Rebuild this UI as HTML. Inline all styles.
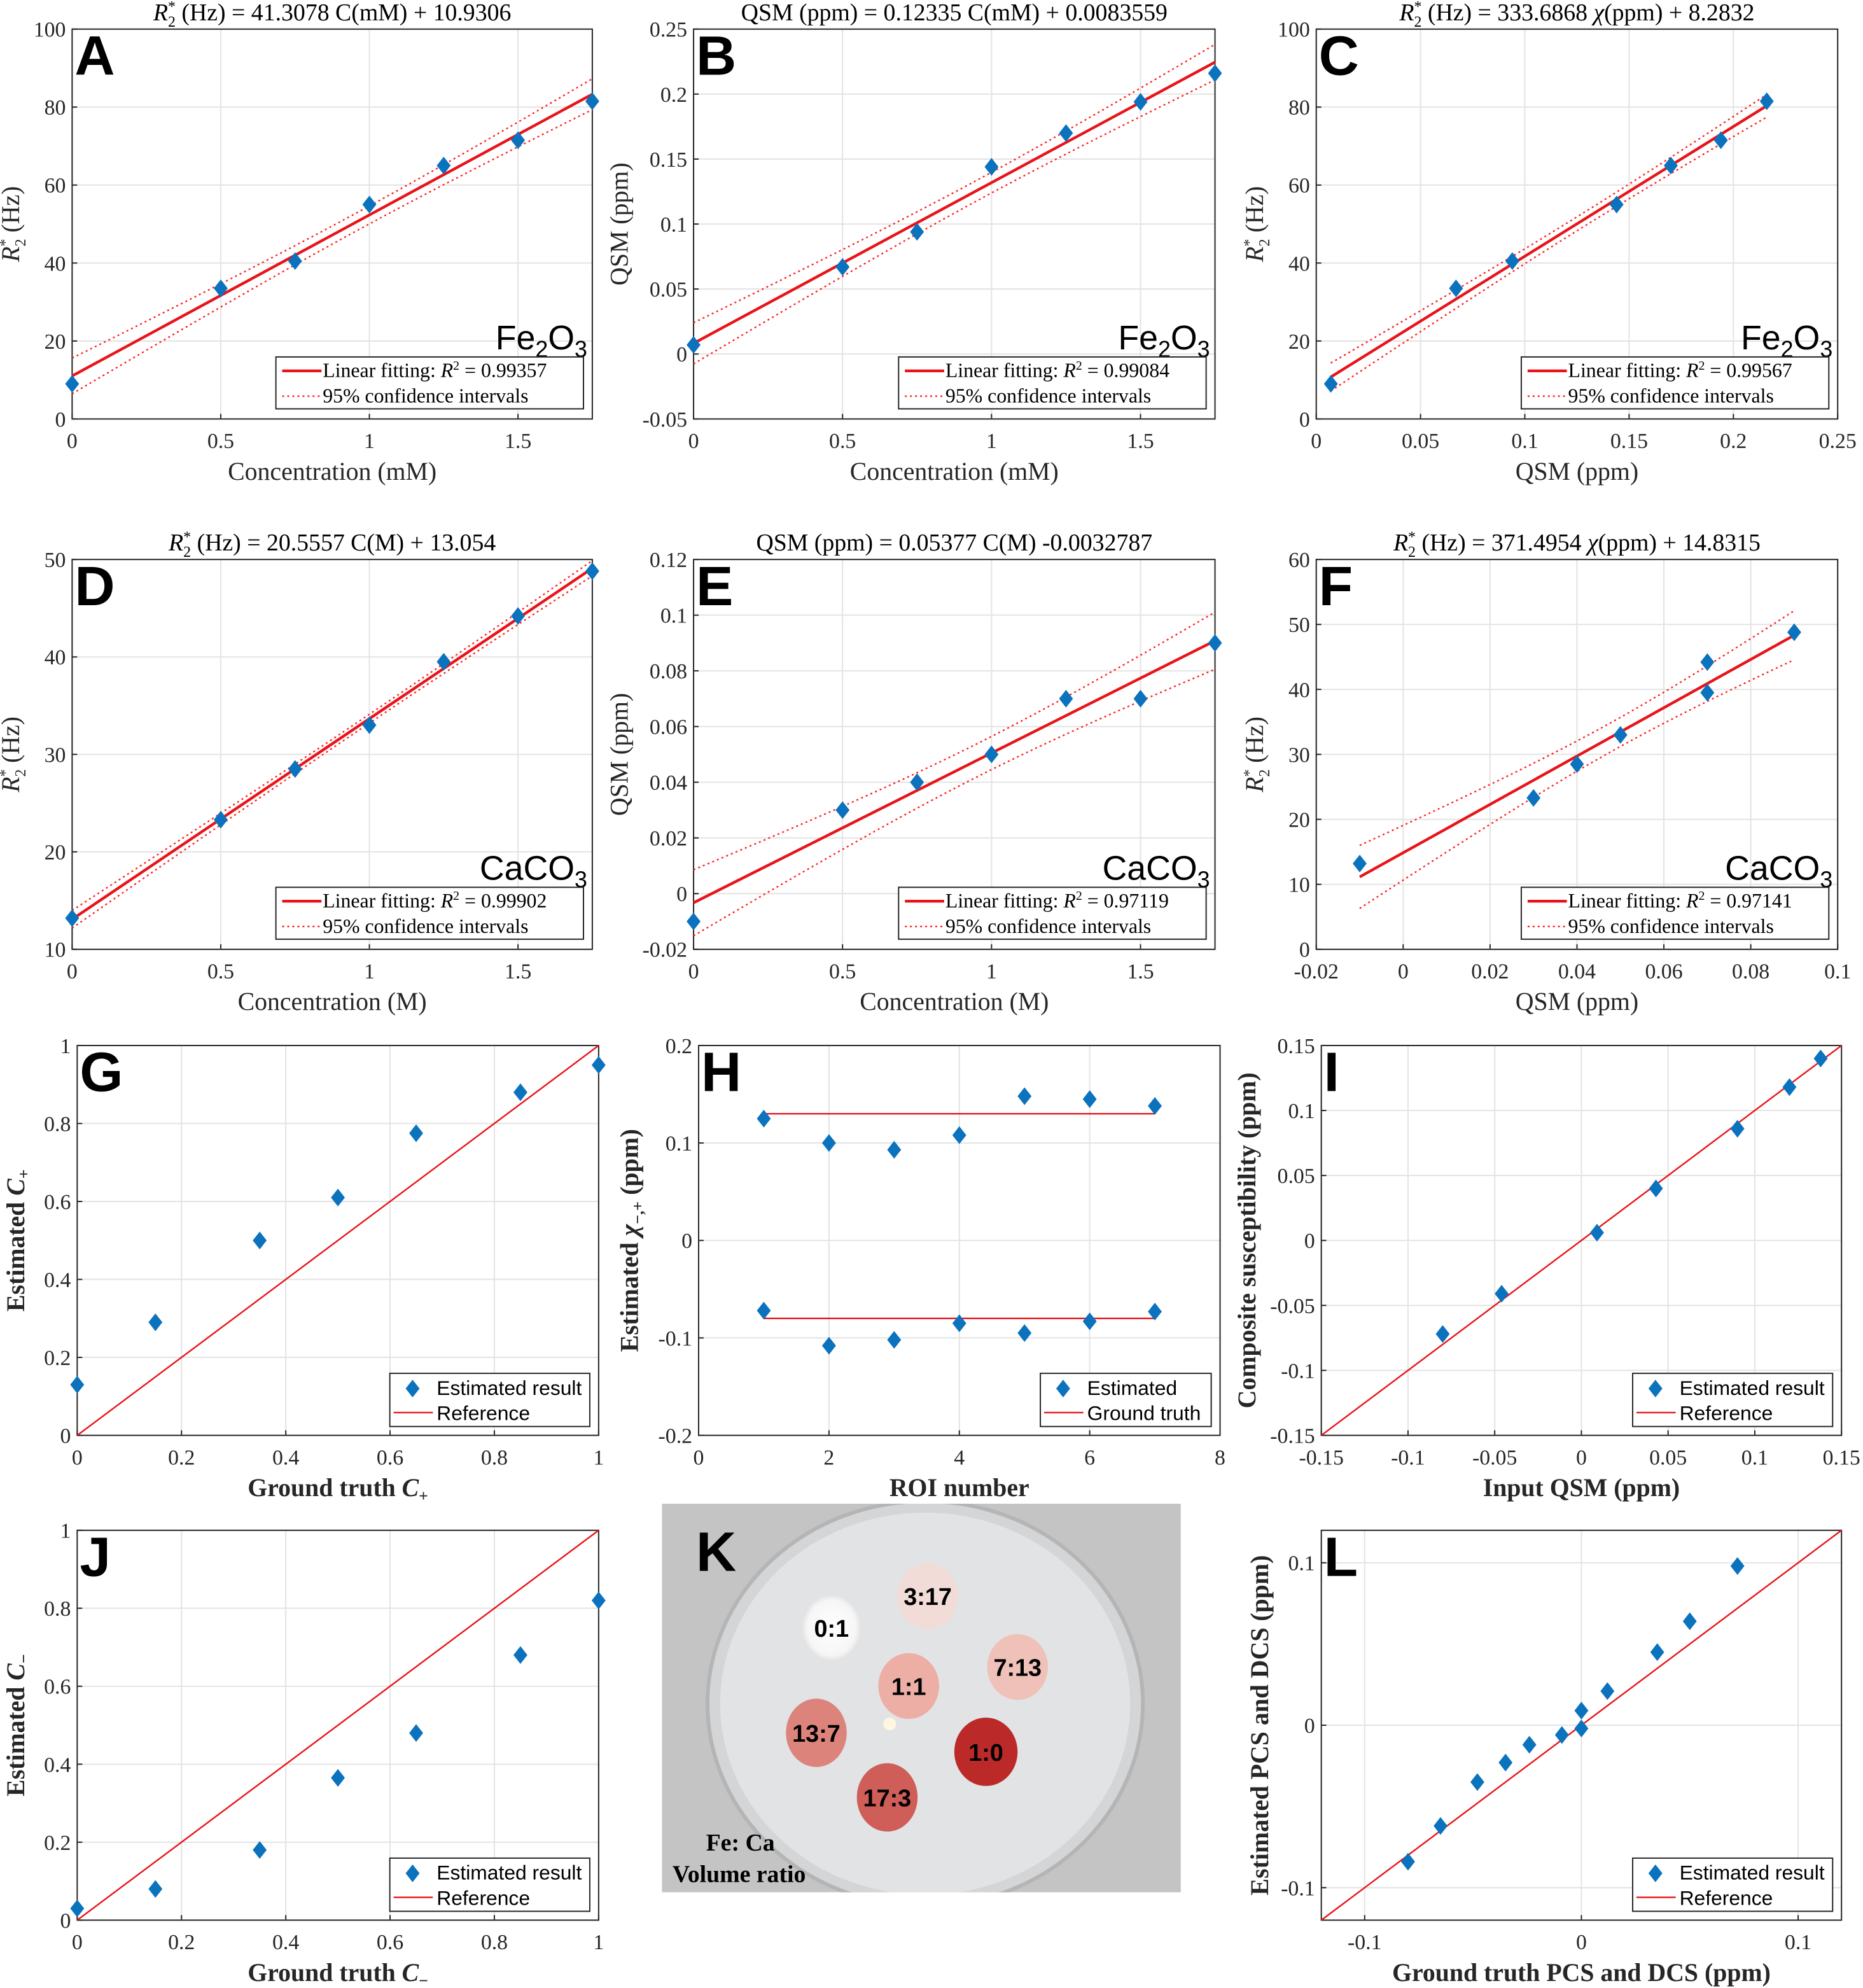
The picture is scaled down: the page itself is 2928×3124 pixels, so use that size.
<!DOCTYPE html>
<html><head><meta charset="utf-8"><style>
html,body{margin:0;padding:0;background:#fff}
svg{display:block}
.serif{font-family:"Liberation Serif",serif}
.sans{font-family:"Liberation Sans",sans-serif}
</style></head><body>
<svg id="fig" xmlns="http://www.w3.org/2000/svg" width="2928" height="3124" viewBox="0 0 1472 1570.6" preserveAspectRatio="none">
<defs>
<radialGradient id="g01"><stop offset="0" stop-color="#ffffff"/><stop offset="0.8" stop-color="#f6f6f6"/><stop offset="1" stop-color="#e0e0e2"/></radialGradient>
<clipPath id="photoClip"><rect x="523" y="1188" width="410" height="307"/></clipPath>
</defs>
<g id="photo" clip-path="url(#photoClip)">
<rect x="523" y="1188" width="410" height="307" fill="#c4c4c4"/>
<ellipse cx="731" cy="1346" rx="172" ry="160" fill="#d4d5d7" stroke="#b5b5b5" stroke-width="3"/>
<ellipse cx="731" cy="1346" rx="162" ry="151" fill="#e2e3e5"/>
<ellipse cx="657" cy="1286" rx="24" ry="27" fill="url(#g01)"/>
<ellipse cx="733" cy="1261" rx="24" ry="26" fill="#f1dcd8"/>
<ellipse cx="804" cy="1317" rx="24" ry="26" fill="#efc1b9"/>
<ellipse cx="718" cy="1332" rx="24" ry="26" fill="#ecaea5"/>
<ellipse cx="645" cy="1369" rx="24" ry="27" fill="#dc847c"/>
<ellipse cx="779" cy="1384" rx="25" ry="27" fill="#bb2a28"/>
<ellipse cx="701" cy="1420" rx="24" ry="27" fill="#cf5d58"/>
<circle cx="703" cy="1362" r="5" fill="#fff7e0"/>
<g class="sans" font-weight="bold" font-size="19" text-anchor="middle" fill="#000">
<text x="657" y="1293">0:1</text>
<text x="733" y="1268">3:17</text>
<text x="804" y="1324">7:13</text>
<text x="718" y="1339">1:1</text>
<text x="645" y="1376">13:7</text>
<text x="779" y="1391">1:0</text>
<text x="701" y="1427">17:3</text>
</g>
<text x="585" y="1462" class="serif" font-weight="bold" font-size="19" text-anchor="middle">Fe: Ca</text>
<text x="584" y="1487" class="serif" font-weight="bold" font-size="19" text-anchor="middle">Volume ratio</text>
<text x="550" y="1241" class="sans" font-weight="bold" font-size="44">K</text>
</g>
</svg>
<script>
// ---------- data ----------
const concFe = [0, 0.5, 0.75, 1, 1.25, 1.5, 1.75];
const r2Fe = [9, 33.5, 40.5, 55, 65, 71.5, 81.5];
const qsmFe = [0.007, 0.067, 0.094, 0.144, 0.17, 0.194, 0.216];
const concCa = [0, 0.5, 0.75, 1, 1.25, 1.5, 1.75];
const r2Ca = [13.2, 23.3, 28.5, 33, 39.5, 44.2, 48.8];
const qsmCaE = [-0.01, 0.03, 0.04, 0.05, 0.07, 0.07, 0.09];
const qsmCaF = [-0.01, 0.03, 0.04, 0.05, 0.07, 0.07, 0.09];
const gtPlus = [0, 0.15, 0.35, 0.5, 0.65, 0.85, 1];
const estPlus = [0.13, 0.29, 0.5, 0.61, 0.775, 0.88, 0.95];
const roiNum = [1, 2, 3, 4, 5, 6, 7];
const chiPlus = [0.125, 0.1, 0.093, 0.108, 0.148, 0.145, 0.138];
const chiMinus = [-0.072, -0.108, -0.102, -0.085, -0.095, -0.083, -0.073];
const gtChi = [0.13, -0.08];
const inputQsm = [-0.08, -0.046, 0.009, 0.043, 0.09, 0.12, 0.138];
const compSus = [-0.072, -0.041, 0.006, 0.04, 0.086, 0.118, 0.14];
const gtMinus = [0, 0.15, 0.35, 0.5, 0.65, 0.85, 1];
const estMinus = [0.03, 0.08, 0.18, 0.365, 0.48, 0.68, 0.82];
const gtPcs = [-0.08, -0.065, -0.048, -0.035, -0.024, -0.009, 0, 0, 0.012, 0.035, 0.05, 0.072];
const estPcs = [-0.084, -0.062, -0.035, -0.023, -0.012, -0.006, -0.002, 0.009, 0.021, 0.045, 0.064, 0.098];
const ticksConc = [0, 0.5, 1, 1.5];
const ticks100 = [0, 20, 40, 60, 80, 100];
const ticksQsmB = [-0.05, 0, 0.05, 0.1, 0.15, 0.2, 0.25];
const ticksQsmC = [0, 0.05, 0.1, 0.15, 0.2, 0.25];
const ticksD = [10, 20, 30, 40, 50];
const ticksE = [-0.02, 0, 0.02, 0.04, 0.06, 0.08, 0.1, 0.12];
const ticksFx = [-0.02, 0, 0.02, 0.04, 0.06, 0.08, 0.1];
const ticksFy = [0, 10, 20, 30, 40, 50, 60];
const ticksUnit = [0, 0.2, 0.4, 0.6, 0.8, 1];
const ticksHx = [0, 2, 4, 6, 8];
const ticksHy = [-0.2, -0.1, 0, 0.1, 0.2];
const ticksI = [-0.15, -0.1, -0.05, 0, 0.05, 0.1, 0.15];
const ticksL = [-0.1, 0, 0.1];
const r2Values = ["0.99357", "0.99084", "0.99567", "0.99902", "0.97119", "0.97141"];

// ---------- helpers ----------
const NS = "http://www.w3.org/2000/svg";
const svg = document.getElementById('fig');
function mk(tag, attrs, parent) {
  const e = document.createElementNS(NS, tag);
  for (const k in attrs) e.setAttribute(k, attrs[k]);
  (parent || svg).appendChild(e);
  return e;
}
function fmt(v) {
  return String(Math.round(v * 1000) / 1000);
}
function linfit(xs, ys) {
  const n = xs.length;
  const mx = xs.reduce((a, b) => a + b, 0) / n, my = ys.reduce((a, b) => a + b, 0) / n;
  let sxx = 0, sxy = 0;
  for (let i = 0; i < n; i++) { sxx += (xs[i] - mx) ** 2; sxy += (xs[i] - mx) * (ys[i] - my); }
  const b = sxy / sxx, a = my - b * mx;
  let sse = 0;
  for (let i = 0; i < n; i++) sse += (ys[i] - a - b * xs[i]) ** 2;
  const s = Math.sqrt(sse / (n - 2));
  return { a, b, mx, sxx, s, n };
}

function makeAxes(p) {
  const g = mk('g', {});
  
  
  const X = v => p.x0 + (v - p.xmin) / (p.xmax - p.xmin) * (p.x1 - p.x0);
  const Y = v => p.y1 - (v - p.ymin) / (p.ymax - p.ymin) * (p.y1 - p.y0);
  const bg = mk('rect', { x: p.x0, y: p.y0, width: p.x1 - p.x0, height: p.y1 - p.y0, fill: '#fff' }, g);
  
  
  p.xticks.forEach(t => {
    const gl = mk('line', { x1: X(t), x2: X(t), y1: p.y0, y2: p.y1, stroke: '#e3e3e3', 'stroke-width': 1 }, g);
    
    
    const tk = mk('line', { x1: X(t), x2: X(t), y1: p.y1, y2: p.y1 - 4, stroke: '#262626', 'stroke-width': 1 }, g);
    
    
    const tl = mk('text', { x: X(t), y: p.y1 + 23, 'text-anchor': 'middle', 'font-size': 17, class: 'serif', fill: '#262626' }, g);
    tl.textContent = fmt(t);
    
    
  });
  p.yticks.forEach(t => {
    const gl = mk('line', { x1: p.x0, x2: p.x1, y1: Y(t), y2: Y(t), stroke: '#e3e3e3', 'stroke-width': 1 }, g);
    
    
    const tk = mk('line', { x1: p.x0, x2: p.x0 + 4, y1: Y(t), y2: Y(t), stroke: '#262626', 'stroke-width': 1 }, g);
    
    
    const tl = mk('text', { x: p.x0 - 5, y: Y(t) + 6, 'text-anchor': 'end', 'font-size': 17, class: 'serif', fill: '#262626' }, g);
    tl.textContent = fmt(t);
    
    
  });
  const box = mk('rect', { x: p.x0, y: p.y0, width: p.x1 - p.x0, height: p.y1 - p.y0, fill: 'none', stroke: '#262626', 'stroke-width': 1 }, g);
  
  
  const xl = mk('text', { x: (p.x0 + p.x1) / 2, y: p.y1 + 48, 'text-anchor': 'middle', 'font-size': 20, class: 'serif', fill: '#262626', 'font-weight': p.boldLabels ? 'bold' : 'normal' }, g);
  xl.innerHTML = p.xlabel;
  
  
  const ylx = p.x0 - (p.ylabelOff || 42), yly = (p.y0 + p.y1) / 2;
  const yl = mk('text', { x: ylx, y: yly, 'text-anchor': 'middle', 'font-size': 20, class: 'serif', fill: '#262626', transform: `rotate(-90 ${ylx} ${yly})`, 'font-weight': p.boldLabels ? 'bold' : 'normal' }, g);
  yl.innerHTML = p.ylabel;
  
  
  if (p.title) {
    const tt = mk('text', { x: (p.x0 + p.x1) / 2, y: p.y0 - 7, 'text-anchor': 'middle', 'font-size': 19, class: 'serif', fill: '#000' }, g);
    tt.innerHTML = p.title;
    
    
  }
  const letter = mk('text', { x: p.x0 + 2, y: p.y0 + 36, 'font-size': 44, 'font-weight': 'bold', class: 'sans', fill: '#000' }, g);
  letter.textContent = p.letter;
  
  
  return { g, X, Y };
}
function diamond(g, x, y) {
  const d = mk('path', { d: `M${x} ${y - 7}L${x + 5.5} ${y}L${x} ${y + 7}L${x - 5.5} ${y}Z`, fill: '#0b72bd' }, g);
  
  
}

const r2star = '<tspan font-style="italic">R</tspan><tspan font-size="12" dy="5">2</tspan><tspan font-size="12" dy="-12" dx="-6">*</tspan><tspan dy="7"> (Hz)</tspan>';

function fitPanel(p, xs, ys, r2, compound, xr) {
  const { g, X, Y } = makeAxes(p);
  const f = linfit(xs, ys);
  const t = 2.571;
  const ci = x => t * f.s * Math.sqrt(1 / f.n + (x - f.mx) ** 2 / f.sxx);
  const lo = xr ? xr[0] : Math.min(...xs), hi = xr ? xr[1] : Math.max(...xs);
  const N = 40;
  let up = '', dn = '';
  for (let i = 0; i <= N; i++) {
    const x = lo + (hi - lo) * i / N, yv = f.a + f.b * x;
    up += (i ? 'L' : 'M') + X(x).toFixed(2) + ' ' + Y(yv + ci(x)).toFixed(2);
    dn += (i ? 'L' : 'M') + X(x).toFixed(2) + ' ' + Y(yv - ci(x)).toFixed(2);
  }
  const cu = mk('path', { d: up, fill: 'none', stroke: '#ff1f1f', 'stroke-width': 1.2, 'stroke-dasharray': '1.5 2.5' }, g);
  
  
  const cd = mk('path', { d: dn, fill: 'none', stroke: '#ff1f1f', 'stroke-width': 1.2, 'stroke-dasharray': '1.5 2.5' }, g);
  
  
  const fl = mk('line', { x1: X(lo), y1: Y(f.a + f.b * lo), x2: X(hi), y2: Y(f.a + f.b * hi), stroke: '#e8141a', 'stroke-width': 2.2 }, g);
  
  
  xs.forEach((x, i) => diamond(g, X(x), Y(ys[i])));
  const cl = mk('text', { x: p.x1 - 4, y: p.y1 - 55, 'text-anchor': 'end', 'font-size': 27, class: 'sans', fill: '#000' }, g);
  cl.innerHTML = compound;
  
  
  const lx = p.x1 - 250, ly = p.y1 - 49;
  const lg = mk('g', {}, g);
  
  
  mk('rect', { x: lx, y: ly, width: 243, height: 41, fill: '#fff', stroke: '#262626', 'stroke-width': 1 }, lg);
  mk('line', { x1: lx + 5, x2: lx + 36, y1: ly + 11, y2: ly + 11, stroke: '#e8141a', 'stroke-width': 2.2 }, lg);
  mk('line', { x1: lx + 5, x2: lx + 36, y1: ly + 31, y2: ly + 31, stroke: '#ff1f1f', 'stroke-width': 1.2, 'stroke-dasharray': '1.5 2.5' }, lg);
  const t1 = mk('text', { x: lx + 37, y: ly + 16, 'font-size': 16, class: 'serif' }, lg);
  t1.innerHTML = 'Linear fitting:  <tspan font-style="italic">R</tspan><tspan font-size="10" dy="-6">2</tspan><tspan dy="6"> = ' + r2 + '</tspan>';
  
  
  const t2 = mk('text', { x: lx + 37, y: ly + 36, 'font-size': 16, class: 'serif' }, lg);
  t2.textContent = '95% confidence intervals';
  
  
}

function compLegend(g, p, lab1, lab2, w) {
  const lx = p.x1 - w - 7, ly = p.y1 - 49;
  const lg = mk('g', {}, g);
  
  
  mk('rect', { x: lx, y: ly, width: w, height: 42, fill: '#fff', stroke: '#262626', 'stroke-width': 1 }, lg);
  diamond(lg, lx + 18, ly + 12);
  mk('line', { x1: lx + 3, x2: lx + 34, y1: ly + 31, y2: ly + 31, stroke: '#e8141a', 'stroke-width': 1.2 }, lg);
  const t1 = mk('text', { x: lx + 37, y: ly + 17, 'font-size': 16, class: 'sans' }, lg);
  t1.textContent = lab1;
  
  
  const t2 = mk('text', { x: lx + 37, y: ly + 37, 'font-size': 16, class: 'sans' }, lg);
  t2.textContent = lab2;
  
  
}

function scatterPanel(p, xs, ys, lab1, lab2, w) {
  const { g, X, Y } = makeAxes(p);
  const ref = mk('line', { x1: X(p.xmin), y1: Y(p.xmin), x2: X(p.xmax), y2: Y(p.xmax), stroke: '#e8141a', 'stroke-width': 1.2 }, g);
  
  
  xs.forEach((x, i) => diamond(g, X(x), Y(ys[i])));
  compLegend(g, p, lab1, lab2, w);
}

const col = [[57, 468], [548, 960], [1040, 1452]];
const col2 = [[61, 473], [552, 964], [1044, 1455]];
const fe2o3 = 'Fe<tspan font-size="18" dy="6">2</tspan><tspan dy="-6">O</tspan><tspan font-size="18" dy="6">3</tspan>';
const caco3 = 'CaCO<tspan font-size="18" dy="6">3</tspan>';

fitPanel({ name: 'panel-a-chart', letter: 'A', x0: col[0][0], x1: col[0][1], y0: 23, y1: 331, xmin: 0, xmax: 1.75, ymin: 0, ymax: 100, xticks: ticksConc, yticks: ticks100,
  xlabel: 'Concentration (mM)', ylabel: r2star, title: r2star + ' = 41.3078 C(mM) + 10.9306' }, concFe, r2Fe, r2Values[0], fe2o3);
fitPanel({ name: 'panel-b-chart', letter: 'B', x0: col[1][0], x1: col[1][1], y0: 23, y1: 331, xmin: 0, xmax: 1.75, ymin: -0.05, ymax: 0.25, xticks: ticksConc, yticks: ticksQsmB, ylabelOff: 52,
  xlabel: 'Concentration (mM)', ylabel: 'QSM (ppm)', title: 'QSM (ppm) = 0.12335 C(mM) + 0.0083559' }, concFe, qsmFe, r2Values[1], fe2o3);
fitPanel({ name: 'panel-c-chart', letter: 'C', x0: col[2][0], x1: col[2][1], y0: 23, y1: 331, xmin: 0, xmax: 0.25, ymin: 0, ymax: 100, xticks: ticksQsmC, yticks: ticks100,
  xlabel: 'QSM (ppm)', ylabel: r2star, title: r2star + ' = 333.6868 <tspan font-style="italic">χ</tspan>(ppm) + 8.2832' }, qsmFe, r2Fe, r2Values[2], fe2o3);
fitPanel({ name: 'panel-d-chart', letter: 'D', x0: col[0][0], x1: col[0][1], y0: 442, y1: 750, xmin: 0, xmax: 1.75, ymin: 10, ymax: 50, xticks: ticksConc, yticks: ticksD,
  xlabel: 'Concentration (M)', ylabel: r2star, title: r2star + ' = 20.5557 C(M) + 13.054' }, concCa, r2Ca, r2Values[3], caco3);
fitPanel({ name: 'panel-e-chart', letter: 'E', x0: col[1][0], x1: col[1][1], y0: 442, y1: 750, xmin: 0, xmax: 1.75, ymin: -0.02, ymax: 0.12, xticks: ticksConc, yticks: ticksE, ylabelOff: 52,
  xlabel: 'Concentration (M)', ylabel: 'QSM (ppm)', title: 'QSM (ppm) = 0.05377 C(M) -0.0032787' }, concCa, qsmCaE, r2Values[4], caco3);
fitPanel({ name: 'panel-f-chart', letter: 'F', x0: col[2][0], x1: col[2][1], y0: 442, y1: 750, xmin: -0.02, xmax: 0.1, ymin: 0, ymax: 60, xticks: ticksFx, yticks: ticksFy,
  xlabel: 'QSM (ppm)', ylabel: r2star, title: r2star + ' = 371.4954 <tspan font-style="italic">χ</tspan>(ppm) + 14.8315' }, qsmCaF, r2Ca, r2Values[5], caco3);

scatterPanel({ name: 'panel-g-chart', letter: 'G', x0: col2[0][0], x1: col2[0][1], y0: 826, y1: 1134, xmin: 0, xmax: 1, ymin: 0, ymax: 1, xticks: ticksUnit, yticks: ticksUnit, boldLabels: true,
  xlabel: 'Ground truth <tspan font-style="italic">C</tspan><tspan font-size="13" dy="4">+</tspan>', ylabel: 'Estimated <tspan font-style="italic">C</tspan><tspan font-size="13" dy="4">+</tspan>' }, gtPlus, estPlus, 'Estimated result', 'Reference', 158);
scatterPanel({ name: 'panel-i-chart', letter: 'I', x0: col2[2][0], x1: col2[2][1], y0: 826, y1: 1134, xmin: -0.15, xmax: 0.15, ymin: -0.15, ymax: 0.15, xticks: ticksI, yticks: ticksI, boldLabels: true, ylabelOff: 52,
  xlabel: 'Input QSM (ppm)', ylabel: 'Composite susceptibility (ppm)' }, inputQsm, compSus, 'Estimated result', 'Reference', 158);
scatterPanel({ name: 'panel-j-chart', letter: 'J', x0: col2[0][0], x1: col2[0][1], y0: 1209, y1: 1517, xmin: 0, xmax: 1, ymin: 0, ymax: 1, xticks: ticksUnit, yticks: ticksUnit, boldLabels: true,
  xlabel: 'Ground truth <tspan font-style="italic">C</tspan><tspan font-size="13" dy="4">−</tspan>', ylabel: 'Estimated <tspan font-style="italic">C</tspan><tspan font-size="13" dy="4">−</tspan>' }, gtMinus, estMinus, 'Estimated result', 'Reference', 158);
scatterPanel({ name: 'panel-l-chart', letter: 'L', x0: col2[2][0], x1: col2[2][1], y0: 1209, y1: 1517, xmin: -0.12, xmax: 0.12, ymin: -0.12, ymax: 0.12, xticks: ticksL, yticks: ticksL, boldLabels: true, ylabelOff: 42,
  xlabel: 'Ground truth PCS and DCS (ppm)', ylabel: 'Estimated PCS and DCS (ppm)' }, gtPcs, estPcs, 'Estimated result', 'Reference', 158);

(function () {
  const p = { name: 'panel-h-chart', letter: 'H', x0: col2[1][0], x1: col2[1][1], y0: 826, y1: 1134, xmin: 0, xmax: 8, ymin: -0.2, ymax: 0.2, xticks: ticksHx, yticks: ticksHy, boldLabels: true, ylabelOff: 48,
    xlabel: 'ROI number', ylabel: 'Estimated <tspan font-style="italic">χ</tspan><tspan font-size="13" dy="4">−,+</tspan><tspan dy="-4"> (ppm)</tspan>' };
  const { g, X, Y } = makeAxes(p);
  gtChi.forEach(v => {
    const l = mk('line', { x1: X(roiNum[0]), x2: X(roiNum[roiNum.length - 1]), y1: Y(v), y2: Y(v), stroke: '#e8141a', 'stroke-width': 1.2 }, g);
    
    
  });
  roiNum.forEach((r, i) => { diamond(g, X(r), Y(chiPlus[i])); diamond(g, X(r), Y(chiMinus[i])); });
  compLegend(g, p, 'Estimated', 'Ground truth', 135);
})();

svg.appendChild(document.getElementById('photo'));
</script>
</body></html>
